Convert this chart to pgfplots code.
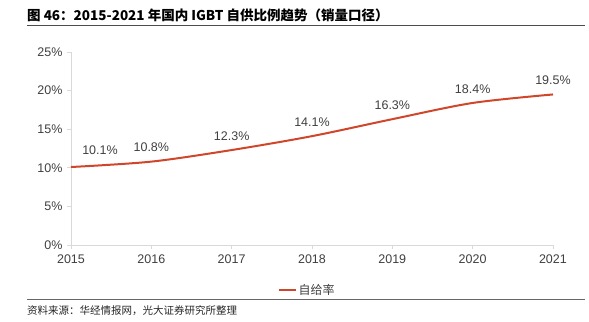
\documentclass[border=0pt]{standalone}
\usepackage{fontspec}
\usepackage{pgfplots}
\pgfplotsset{compat=1.18}
\setmainfont{Liberation Sans}
\newfontfamily\cjk{Noto Sans CJK SC}
\definecolor{linered}{HTML}{D0462A}
\definecolor{txt}{HTML}{404040}
\definecolor{axgray}{HTML}{D9D9D9}
\begin{document}
\begin{tikzpicture}
\path[use as bounding box] (0,0) rectangle (589bp,322bp);
\node[anchor=base west, inner sep=0pt] at (27bp,301bp) {\fontsize{13.5bp}{15bp}\selectfont\cjk\bfseries 图 46：2015-2021 年国内 IGBT 自供比例趋势（销量口径）};
\draw[line width=1bp, color=black!70] (27bp,296.5bp) -- (585bp,296.5bp);
\draw[line width=1bp, color=black!60] (27bp,22bp) -- (585bp,22bp);
\node[anchor=base west, inner sep=0pt, text=black!85] at (27bp,8bp) {\fontsize{10.5bp}{12bp}\selectfont\cjk 资料来源：华经情报网，光大证券研究所整理};
\begin{axis}[
  at={(71bp,77bp)}, anchor=south west,
  scale only axis, width=482bp, height=193bp,
  xmin=2015, xmax=2021, ymin=0, ymax=25,
  axis lines=left, axis line style={-, color=axgray, line width=0.8bp},
  xtick={2015,...,2021}, ytick={0,5,...,25},
  xticklabel={\pgfmathprintnumber[1000 sep={}]{\tick}},
  yticklabel={\pgfmathprintnumber{\tick}\%},
  tick style={color=axgray, line width=0.8bp},
  major tick length=4bp, tick align=outside,
  ticklabel style={font=\fontsize{12.5bp}{14bp}\selectfont, text=txt},
  /pgf/number format/assume math mode=true,
  xticklabel style={yshift=-2bp},
  yticklabel style={xshift=-1bp},
  clip=false,
  legend style={at={(0.49,-0.233)}, anchor=center, draw=none, fill=none,
    font=\fontsize{12bp}{14bp}\selectfont\cjk, text=txt, inner sep=0pt},
  legend image post style={line width=2bp},
  legend cell align=left,
]
\addplot[color=linered, line width=2bp, smooth, tension=0.5, mark=none] coordinates {
  (2015,10.1) (2016,10.8) (2017,12.3) (2018,14.1) (2019,16.3) (2020,18.4) (2021,19.5)
};
\addlegendentry{自给率}
\addplot[draw=none, mark=none, nodes near coords={\pgfmathprintnumber[fixed,fixed zerofill,precision=1]{\pgfplotspointmeta}\%},
  nodes near coords style={font=\fontsize{12.5bp}{14bp}\selectfont, text=txt, anchor=south, yshift=6bp},
  forget plot] coordinates {
  (2016,10.8) (2017,12.3) (2018,14.1) (2019,16.3) (2020,18.4) (2021,19.5)
};
\addplot[draw=none, mark=none, nodes near coords={\pgfmathprintnumber[fixed,fixed zerofill,precision=1]{\pgfplotspointmeta}\%},
  nodes near coords style={font=\fontsize{12.5bp}{14bp}\selectfont, text=txt, anchor=south, yshift=9bp, xshift=29bp},
  forget plot] coordinates {
  (2015,10.1)
};
\end{axis}
\end{tikzpicture}
\end{document}
